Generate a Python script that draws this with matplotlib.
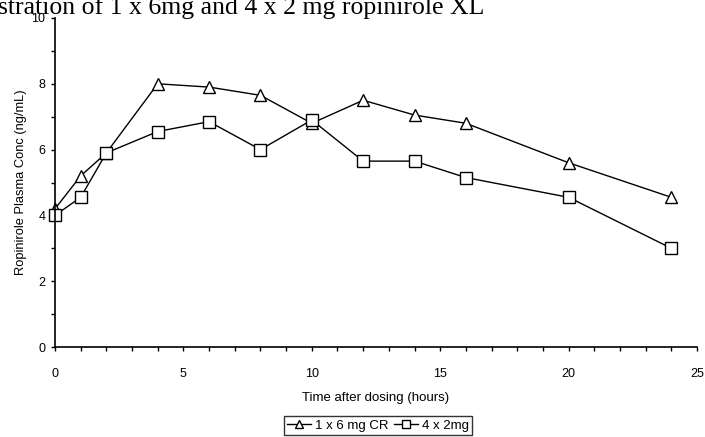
import matplotlib.pyplot as plt
from matplotlib.ticker import MultipleLocator

# Plasma concentrations (ng/mL) after dosing
time_h = [0, 1, 2, 4, 6, 8, 10, 12, 14, 16, 20, 24]
conc_cr = [4.2, 5.2, 5.9, 8.0, 7.9, 7.65, 6.8, 7.5, 7.05, 6.8, 5.6, 4.55]
conc_ir = [4.0, 4.55, 5.9, 6.55, 6.85, 6.0, 6.9, 5.65, 5.65, 5.15, 4.55, 3.0]
label_cr = "1 x 6 mg CR"
label_ir = "4 x 2mg"

plt.rcParams['font.family'] = ['Liberation Sans', 'DejaVu Sans']

fig = plt.figure(figsize=(7.05, 4.37), dpi=100)
ax = fig.add_axes([55/705, 1 - 347/437, (697 - 55)/705, (347 - 18)/437])

# caption line from the page, cut off at the top edge
fig.text(-0.003, 1 - 14/437, "stration of 1 x 6mg and 4 x 2 mg ropinirole XL",
         family='Liberation Serif', fontsize=18.5, ha='left', va='baseline')

ax.plot(time_h, conc_cr, '-^', color='black', lw=1.0, ms=8,
        mfc='white', mec='black', mew=1.0, label=label_cr, clip_on=False)
ax.plot(time_h, conc_ir, '-s', color='black', lw=1.0, ms=8,
        mfc='white', mec='black', mew=1.0, label=label_ir, clip_on=False)

ax.set_xlim(0, 25)
ax.set_ylim(0, 10)
ax.xaxis.set_major_locator(MultipleLocator(5))
ax.xaxis.set_minor_locator(MultipleLocator(1))
ax.yaxis.set_major_locator(MultipleLocator(2))
ax.yaxis.set_minor_locator(MultipleLocator(1))
ax.tick_params(which='both', direction='out', length=3, width=1, labelsize=9)
ax.tick_params(axis='x', which='major', pad=12)
ax.tick_params(axis='y', which='major', pad=4)

for s in ['top', 'right']:
    ax.spines[s].set_visible(False)
for s in ['left', 'bottom']:
    ax.spines[s].set_linewidth(1.2)

ax.set_xlabel("Time after dosing (hours)", fontsize=9.5, labelpad=9)
ax.set_ylabel("Ropinirole Plasma Conc (ng/mL)", fontsize=9.3, labelpad=3)

leg = ax.legend(loc='upper center', bbox_to_anchor=(0.503, -0.21), ncol=2,
                fontsize=9.5, frameon=True, fancybox=False, edgecolor='black',
                handlelength=1.8, handletextpad=0.3, columnspacing=0.4,
                borderpad=0.25, borderaxespad=0, markerscale=0.8)
leg.get_frame().set_linewidth(1.0)

fig.savefig("out.png", dpi=100)
